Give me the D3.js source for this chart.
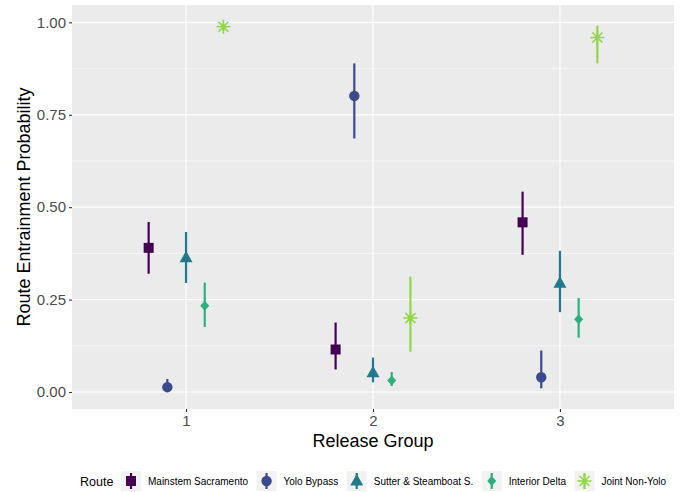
<!DOCTYPE html>
<html>
<head>
<meta charset="utf-8">
<script src="https://cdn.jsdelivr.net/npm/d3@7"></script>
<style>
  html, body { margin: 0; padding: 0; background: #ffffff; }
  svg { display: block; font-family: "Liberation Sans", Arial, sans-serif; }
</style>
</head>
<body>
<svg id="chart" width="681" height="492"></svg>
<script>
// Release groups on the x axis
const groups = [1, 2, 3];
const xTickLabels = ["1", "2", "3"];
const yTicks = [0, 0.25, 0.5, 0.75, 1];
const yTickLabels = ["0.00", "0.25", "0.50", "0.75", "1.00"];

// Routes, in legend / dodge order
const routes = ["Mainstem Sacramento", "Yolo Bypass", "Sutter & Steamboat S.", "Interior Delta", "Joint Non-Yolo"];
const routeColors = ["#440154", "#3B4A8C", "#21798C", "#2BB07F", "#90D743"];
const routeShapes = ["square", "circle", "triangle", "diamond", "asterisk"];

// Estimates and 95% interval bounds, one value per release group
const mainstemEst = [0.390, 0.115, 0.459];
const mainstemLow = [0.320, 0.061, 0.371];
const mainstemHigh = [0.460, 0.188, 0.542];

const yoloEst = [0.013, 0.801, 0.040];
const yoloLow = [0.004, 0.686, 0.010];
const yoloHigh = [0.035, 0.889, 0.112];

const sutterEst = [0.363, 0.052, 0.294];
const sutterLow = [0.295, 0.026, 0.216];
const sutterHigh = [0.433, 0.093, 0.382];

const interiorEst = [0.233, 0.031, 0.197];
const interiorLow = [0.176, 0.016, 0.147];
const interiorHigh = [0.296, 0.054, 0.254];

const jointEst = [0.988, 0.200, 0.959];
const jointLow = [0.978, 0.109, 0.889];
const jointHigh = [0.995, 0.312, 0.991];

const estimates = [mainstemEst, yoloEst, sutterEst, interiorEst, jointEst];
const lows = [mainstemLow, yoloLow, sutterLow, interiorLow, jointLow];
const highs = [mainstemHigh, yoloHigh, sutterHigh, interiorHigh, jointHigh];
const dodge = [-0.2, -0.1, 0, 0.1, 0.2];

// Long-format table built from the arrays above
const rows = [];
routes.forEach((r, i) => {
  groups.forEach((g, j) => {
    rows.push({ route: r, idx: i, group: g, est: estimates[i][j], low: lows[i][j], high: highs[i][j] });
  });
});

const svg = d3.select("#chart");
const panel = { left: 72, right: 674, top: 5, bottom: 409 };

const x = d3.scaleLinear().domain([0.39, 3.61]).range([panel.left, panel.right]);
const y = d3.scaleLinear().domain([-0.046, 1.047]).range([panel.bottom, panel.top]);
const color = d3.scaleOrdinal().domain(routes).range(routeColors);

// Panel background
svg.append("rect")
  .attr("x", panel.left).attr("y", panel.top)
  .attr("width", panel.right - panel.left).attr("height", panel.bottom - panel.top)
  .attr("fill", "#EBEBEB");

// Minor horizontal grid
const minorY = d3.range(0.125, 1, 0.25);
svg.append("g").selectAll("line").data(minorY).join("line")
  .attr("x1", panel.left).attr("x2", panel.right)
  .attr("y1", d => y(d)).attr("y2", d => y(d))
  .attr("stroke", "#ffffff").attr("stroke-width", 0.6);

// Major grid
svg.append("g").selectAll("line").data(yTicks).join("line")
  .attr("x1", panel.left).attr("x2", panel.right)
  .attr("y1", d => y(d)).attr("y2", d => y(d))
  .attr("stroke", "#ffffff").attr("stroke-width", 1.2);
svg.append("g").selectAll("line").data(groups).join("line")
  .attr("y1", panel.top).attr("y2", panel.bottom)
  .attr("x1", d => x(d)).attr("x2", d => x(d))
  .attr("stroke", "#ffffff").attr("stroke-width", 1.2);

// Axes
const yAxis = d3.axisLeft(y).tickValues(yTicks)
  .tickFormat((d, i) => yTickLabels[i]).tickSize(3).tickPadding(3);
const gy = svg.append("g").attr("transform", `translate(${panel.left},0)`).call(yAxis);
const xAxis = d3.axisBottom(x).tickValues(groups)
  .tickFormat((d, i) => xTickLabels[i]).tickSize(3).tickPadding(3);
const gx = svg.append("g").attr("transform", `translate(0,${panel.bottom})`).call(xAxis);
[gx, gy].forEach(g => {
  g.select(".domain").remove();
  g.selectAll(".tick line").attr("stroke", "#333333").attr("stroke-width", 1.1);
  g.selectAll(".tick text").attr("fill", "#4D4D4D")
    .attr("font-size", 15).attr("font-family", "Liberation Sans, Arial, sans-serif");
});

// Axis titles
svg.append("text")
  .attr("x", (panel.left + panel.right) / 2).attr("y", 447)
  .attr("text-anchor", "middle").attr("font-size", 18).attr("fill", "#000")
  .text("Release Group");
svg.append("text")
  .attr("transform", `translate(30,${(panel.top + panel.bottom) / 2}) rotate(-90)`)
  .attr("text-anchor", "middle").attr("font-size", 18).attr("fill", "#000")
  .text("Route Entrainment Probability");

// Marker drawing
function drawShape(g, shape, col) {
  if (shape === "square") {
    g.append("rect").attr("x", -5).attr("y", -5).attr("width", 10).attr("height", 10).attr("fill", col);
  } else if (shape === "circle") {
    g.append("circle").attr("r", 5.2).attr("fill", col);
  } else if (shape === "triangle") {
    g.append("path").attr("d", "M0,-7 L6.5,4.5 L-6.5,4.5 Z").attr("fill", col);
  } else if (shape === "diamond") {
    g.append("path").attr("d", "M0,-5 L4.5,0 L0,5 L-4.5,0 Z").attr("fill", col);
  } else {
    const r = 7, d = 5;
    g.append("path")
      .attr("d", `M${-r},0 L${r},0 M0,${-r} L0,${r} M${-d},${-d} L${d},${d} M${-d},${d} L${d},${-d}`)
      .attr("stroke", col).attr("stroke-width", 1.6).attr("fill", "none");
  }
}

// Error bars and points
const marks = svg.append("g");
marks.selectAll("line.err").data(rows).join("line")
  .attr("class", "err")
  .attr("x1", d => x(d.group + dodge[d.idx])).attr("x2", d => x(d.group + dodge[d.idx]))
  .attr("y1", d => y(d.low)).attr("y2", d => y(d.high))
  .attr("stroke", d => color(d.route)).attr("stroke-width", 2.2);
marks.selectAll("g.pt").data(rows).join("g")
  .attr("class", "pt")
  .attr("transform", d => `translate(${x(d.group + dodge[d.idx])},${y(d.est)})`)
  .each(function(d) { drawShape(d3.select(this), routeShapes[d.idx], color(d.route)); });

// Legend
const legend = svg.append("g");
const legY = 481;
legend.append("text").attr("x", 80).attr("y", legY + 4.5)
  .attr("font-size", 12.5).attr("fill", "#000").text("Route");
let cx = 121;
routes.forEach((r, i) => {
  const key = legend.append("g").attr("transform", `translate(${cx},${legY - 10})`);
  key.append("rect").attr("width", 20).attr("height", 20).attr("fill", "#F2F2F2");
  key.append("line").attr("x1", 10).attr("x2", 10).attr("y1", 2).attr("y2", 18)
    .attr("stroke", routeColors[i]).attr("stroke-width", 2.2);
  drawShape(key.append("g").attr("transform", "translate(10,10)"), routeShapes[i], routeColors[i]);
  const t = legend.append("text").attr("x", cx + 27).attr("y", legY + 3.5)
    .attr("font-size", 10).attr("fill", "#000").text(r);
  cx = cx + 27 + t.node().getComputedTextLength() + 8.5;
});
</script>
</body>
</html>
